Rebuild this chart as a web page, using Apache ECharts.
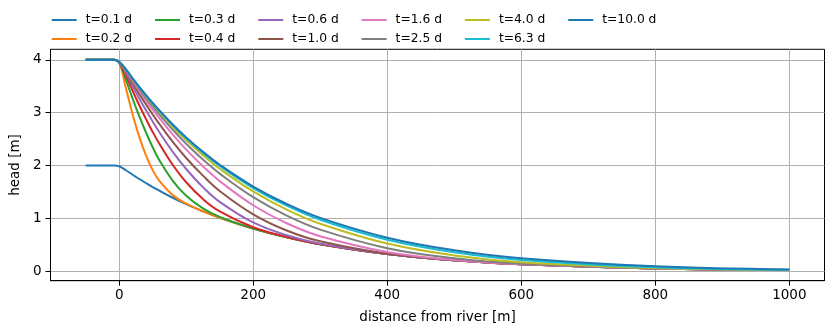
<!DOCTYPE html>
<html>
<head>
<meta charset="utf-8">
<script src="https://cdn.jsdelivr.net/npm/echarts@6/dist/echarts.min.js"></script>
<style>
html,body{margin:0;padding:0;background:#fff;}
#chart{width:833px;height:335px;}
</style>
</head>
<body>
<div id="chart"></div>
<script>
// distance from river [m]
const distances = [-50, -8, 0, 10, 20, 30, 40, 50, 60, 80, 100, 125, 150, 200, 250, 300, 400, 500, 600, 800, 1000];
const seriesNames = ['t=0.1 d','t=0.2 d','t=0.3 d','t=0.4 d','t=0.6 d','t=1.0 d','t=1.6 d','t=2.5 d','t=4.0 d','t=6.3 d','t=10.0 d'];
// head [m] per time
const head_t0_1 = [2,2,1.985,1.911,1.826,1.745,1.668,1.593,1.523,1.390,1.269,1.133,1.011,0.806,0.642,0.511,0.325,0.206,0.131,0.053,0.021];
const head_t0_2 = [4,4,3.95,3.466,2.972,2.542,2.190,1.913,1.708,1.440,1.279,1.134,1.011,0.806,0.642,0.511,0.325,0.206,0.131,0.053,0.021];
const head_t0_3 = [4,4,3.95,3.627,3.268,2.933,2.625,2.347,2.102,1.709,1.428,1.190,1.028,0.807,0.642,0.511,0.325,0.206,0.131,0.053,0.021];
const head_t0_4 = [4,4,3.955,3.702,3.416,3.141,2.881,2.636,2.411,2.010,1.683,1.365,1.131,0.831,0.646,0.511,0.325,0.206,0.131,0.053,0.021];
const head_t0_6 = [4,4,3.955,3.748,3.504,3.270,3.045,2.832,2.630,2.258,1.934,1.591,1.313,0.922,0.679,0.520,0.325,0.206,0.131,0.053,0.021];
const head_t1_0 = [4,4,3.96,3.777,3.562,3.356,3.158,2.967,2.786,2.448,2.143,1.809,1.519,1.077,0.771,0.566,0.332,0.207,0.131,0.053,0.021];
const head_t1_6 = [4,4,3.96,3.796,3.601,3.413,3.233,3.060,2.895,2.584,2.301,1.986,1.705,1.248,0.908,0.662,0.365,0.214,0.132,0.053,0.021];
const head_t2_5 = [4,4,3.96,3.809,3.626,3.450,3.282,3.120,2.966,2.678,2.413,2.113,1.847,1.401,1.053,0.787,0.436,0.245,0.143,0.054,0.021];
const head_t4_0 = [4,4,3.96,3.816,3.639,3.473,3.313,3.158,3.011,2.733,2.482,2.197,1.940,1.510,1.166,0.898,0.523,0.299,0.171,0.059,0.022];
const head_t6_3 = [4,4,3.96,3.821,3.647,3.483,3.327,3.177,3.033,2.763,2.517,2.241,1.991,1.574,1.240,0.973,0.595,0.358,0.213,0.074,0.025];
const head_t10_0 = [4,4,3.96,3.822,3.651,3.488,3.333,3.184,3.043,2.776,2.533,2.260,2.015,1.602,1.272,1.009,0.634,0.396,0.245,0.092,0.033];
const xTicks = [0, 200, 400, 600, 800, 1000];
const yTicks = [0, 1, 2, 3, 4];

const heads = [head_t0_1, head_t0_2, head_t0_3, head_t0_4, head_t0_6, head_t1_0, head_t1_6, head_t2_5, head_t4_0, head_t6_3, head_t10_0];
const colors = ['#1f77b4','#ff7f0e','#2ca02c','#d62728','#9467bd','#8c564b','#e377c2','#7f7f7f','#bcbd22','#17becf','#1f77b4'];
const FONT = 'DejaVu Sans';

const chart = echarts.init(document.getElementById('chart'), null, {renderer: 'canvas'});

const legends = seriesNames.map((n, i) => ({
  data: [n],
  left: 51.7 + Math.floor(i / 2) * 103.3,
  top: (i % 2 === 0) ? 13 : 32,
  padding: 0,
  icon: 'rect',
  itemWidth: 25,
  itemHeight: 2,
  selectedMode: false,
  textStyle: {fontFamily: FONT, fontSize: 12.3, color: '#000', padding: [0, 0, 0, 4], lineHeight: 14}
}));

const series = heads.map((arr, i) => ({
  name: seriesNames[i],
  type: 'line',
  data: distances.map((x, j) => [x, arr[j]]),
  symbol: 'none',
  smooth: 0.4,
  color: colors[i],
  lineStyle: {width: 2, color: colors[i]},
  emphasis: {disabled: true},
  z: 2 + i
}));

chart.setOption({
  animation: false,
  color: colors,
  legend: legends,
  grid: {left: 49.3, right: 8.5, top: 49.3, bottom: 54.3, show: true, borderColor: '#000', borderWidth: 1, backgroundColor: 'transparent'},
  xAxis: {
    type: 'value', min: -102.5, max: 1052.5,
    name: 'distance from river [m]', nameLocation: 'middle', nameGap: 30,
    nameTextStyle: {fontFamily: FONT, fontSize: 13.5, color: '#000'},
    axisLine: {show: true, onZero: false, lineStyle: {color: '#000', width: 1}},
    axisTick: {show: true, length: 5, lineStyle: {color: '#000', width: 1}, customValues: xTicks},
    axisLabel: {fontFamily: FONT, fontSize: 13.5, color: '#000', margin: 8, customValues: xTicks, formatter: v => String(v)},
    splitLine: {show: true, lineStyle: {color: '#b0b0b0', width: 1}}
  },
  yAxis: {
    type: 'value', min: -0.18, max: 4.2,
    name: 'head [m]', nameLocation: 'middle', nameGap: 23, nameRotate: 90,
    nameTextStyle: {fontFamily: FONT, fontSize: 13.5, color: '#000'},
    axisLine: {show: true, onZero: false, lineStyle: {color: '#000', width: 1}},
    axisTick: {show: true, length: 5, lineStyle: {color: '#000', width: 1}, customValues: yTicks},
    axisLabel: {fontFamily: FONT, fontSize: 13.5, color: '#000', margin: 9, customValues: yTicks, formatter: v => String(v)},
    splitLine: {show: true, lineStyle: {color: '#b0b0b0', width: 1}}
  },
  series: series
});
</script>
</body>
</html>
